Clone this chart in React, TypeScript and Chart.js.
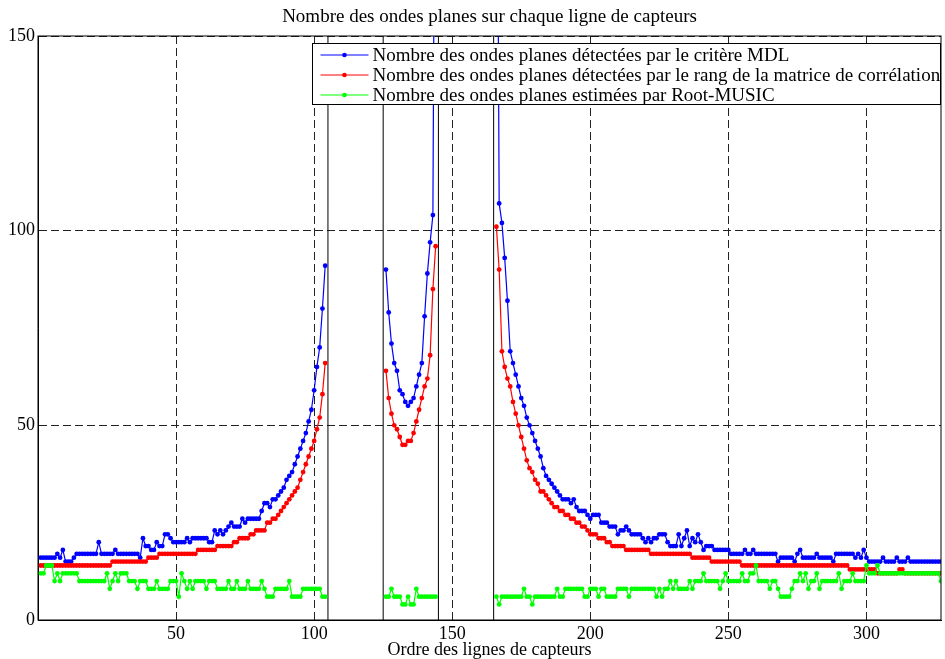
import React, { useEffect, useRef } from "react";
import { Chart, registerables } from "chart.js";

Chart.register(...registerables);

const FONT = "'Liberation Serif', 'Times New Roman', serif";

const titleText = "Nombre des ondes planes sur chaque ligne de capteurs";
const xLabel = "Ordre des lignes de capteurs";
const seriesNames = [
  "Nombre des ondes planes détectées par le critère MDL",
  "Nombre des ondes planes détectées par le rang de la matrice de corrélation",
  "Nombre des ondes planes estimées par Root-MUSIC",
];
const seriesColors = ["#0000ff", "#ff0000", "#00ff00"];

// first sensor line index of each measured segment
const segmentStarts = [1, 126, 166];
// vertical separators between segments
const separators = [105, 125, 145, 165];
const xTicks = [50, 100, 150, 200, 250, 300];
const yTicks = [0, 50, 100, 150];
const xRange = [0, 327];
const yRange = [0, 150];

// MDL criterion (blue)
const mdlSeg1 = [
  16, 16, 16, 16, 16, 16, 17, 16, 18, 15,
  15, 15, 16, 17, 17, 17, 17, 17, 17, 17,
  17, 20, 17, 17, 17, 17, 17, 18, 17, 17,
  17, 17, 17, 17, 17, 17, 16, 21, 19, 19,
  18, 18, 20, 19, 19, 22, 22, 21, 20, 20,
  20, 20, 20, 21, 20, 21, 21, 21, 21, 21,
  21, 20, 20, 23, 22, 23, 22, 23, 24, 25,
  24, 24, 24, 26, 25, 26, 26, 26, 26, 26,
  28, 30, 30, 29, 31, 31, 32, 33, 34, 36,
  37, 38, 40, 42, 44, 46, 48, 51, 54, 59,
  65, 70, 80, 91,
];
const mdlSeg2 = [90, 79, 71, 66, 64, 59, 58, 56, 55, 56, 57, 60, 63, 66, 78, 89, 97, 104, 250];
const mdlSeg3 = [
  250, 107, 102, 93, 82, 69, 66, 63, 60, 57,
  55, 52, 50, 48, 46, 44, 42, 39, 37, 36,
  35, 34, 33, 32, 31, 31, 31, 30, 31, 29,
  28, 28, 28, 27, 26, 27, 27, 27, 25, 25,
  25, 24, 24, 24, 22, 23, 23, 24, 23, 22,
  22, 22, 22, 21, 20, 21, 20, 21, 21, 22,
  22, 22, 20, 19, 19, 19, 22, 19, 21, 23,
  19, 21, 20, 22, 20, 18, 19, 19, 19, 18,
  18, 18, 18, 18, 18, 17, 17, 17, 17, 17,
  18, 17, 17, 18, 17, 17, 17, 17, 17, 17,
  17, 17, 15, 16, 16, 16, 16, 16, 15, 17,
  18, 16, 16, 16, 16, 16, 17, 16, 16, 16,
  16, 16, 15, 17, 17, 17, 17, 17, 17, 17,
  16, 17, 16, 18, 16, 15, 15, 15, 15, 15,
  16, 15, 15, 15, 15, 16, 15, 15, 15, 16,
  15, 15, 15, 15, 15, 15, 15, 15, 15, 15,
  15, 15,
];

// rank of the correlation matrix (red)
const rankSeg1 = [
  14, 14, 14, 14, 14, 14, 14, 14, 14, 14,
  14, 14, 14, 14, 14, 14, 14, 14, 14, 14,
  14, 14, 14, 14, 14, 14, 15, 15, 15, 15,
  15, 15, 15, 15, 15, 15, 15, 15, 15, 16,
  16, 16, 16, 17, 17, 17, 17, 17, 17, 17,
  17, 17, 17, 17, 17, 17, 17, 18, 18, 18,
  18, 18, 18, 18, 19, 19, 19, 19, 19, 19,
  20, 20, 21, 21, 21, 21, 22, 22, 23, 23,
  23, 23, 25, 25, 26, 26, 27, 28, 29, 30,
  31, 32, 33, 34, 36, 38, 40, 42, 44, 46,
  49, 52, 58, 66,
];
const rankSeg2 = [64, 57, 53, 50, 49, 47, 45, 45, 46, 46, 48, 51, 54, 57, 60, 62, 68, 85, 96];
const rankSeg3 = [
  101, 90, 69, 65, 62, 60, 56, 53, 50, 47,
  44, 41, 39, 38, 36, 35, 33, 33, 32, 31,
  30, 29, 29, 28, 28, 27, 27, 26, 26, 25,
  25, 24, 24, 23, 22, 22, 22, 21, 21, 21,
  20, 20, 19, 19, 19, 19, 19, 18, 18, 18,
  18, 18, 18, 18, 18, 18, 17, 17, 17, 17,
  17, 17, 17, 17, 17, 17, 17, 17, 17, 17,
  17, 16, 16, 16, 16, 16, 16, 16, 15, 15,
  15, 15, 15, 15, 15, 15, 15, 15, 15, 14,
  14, 14, 14, 14, 14, 14, 14, 14, 14, 14,
  14, 14, 14, 14, 14, 14, 14, 14, 14, 14,
  14, 14, 14, 14, 14, 14, 14, 14, 14, 14,
  14, 14, 14, 14, 14, 14, 14, 14, 13, 13,
  13, 13, 13, 13, 13, 13, 13, 13, 12, 12,
  12, 12, 12, 12, 12, 12, 13, 13, 12, 12,
  12, 12, 12, 12, 12, 12, 12, 12, 12, 12,
  12, 12,
];

// Root-MUSIC estimate (green)
const musicSeg1 = [
  12, 12, 14, 14, 14, 10, 12, 10, 12, 12,
  12, 12, 12, 12, 10, 10, 10, 10, 10, 10,
  10, 10, 10, 10, 12, 8, 10, 12, 10, 12,
  12, 12, 10, 10, 10, 8, 10, 10, 10, 8,
  8, 8, 10, 8, 8, 8, 8, 10, 10, 10,
  6, 12, 10, 8, 10, 8, 10, 10, 10, 10,
  8, 10, 10, 10, 8, 8, 8, 8, 10, 8,
  8, 10, 8, 8, 8, 10, 8, 8, 8, 8,
  10, 8, 6, 6, 6, 8, 8, 8, 8, 8,
  10, 6, 6, 6, 6, 8, 8, 8, 8, 8,
  8, 8, 6, 6,
];
const musicSeg2 = [6, 6, 8, 6, 6, 6, 4, 4, 6, 4, 4, 8, 6, 6, 6, 6, 6, 6, 6];
const musicSeg3 = [
  6, 4, 6, 6, 6, 6, 6, 6, 6, 6,
  8, 6, 6, 4, 6, 6, 6, 6, 6, 6,
  6, 6, 8, 6, 6, 8, 8, 8, 8, 8,
  8, 8, 6, 6, 8, 8, 8, 6, 8, 8,
  6, 6, 6, 6, 8, 8, 8, 8, 6, 8,
  8, 8, 8, 8, 8, 8, 8, 8, 6, 8,
  6, 8, 8, 10, 8, 10, 8, 8, 8, 8,
  10, 8, 10, 10, 10, 12, 10, 10, 10, 10,
  10, 8, 10, 12, 10, 10, 10, 10, 10, 12,
  10, 10, 12, 12, 14, 10, 10, 10, 10, 8,
  10, 10, 8, 6, 6, 6, 6, 8, 10, 10,
  12, 10, 12, 8, 10, 10, 12, 8, 10, 10,
  10, 10, 10, 10, 12, 8, 10, 10, 10, 12,
  10, 10, 10, 10, 14, 12, 12, 12, 14, 12,
  12, 12, 12, 12, 12, 12, 12, 12, 12, 12,
  12, 12, 12, 12, 12, 12, 12, 12, 12, 12,
  12, 10,
];

function buildPoints(segs: number[][]) {
  const pts: { x: number; y: number | null }[] = [];
  segs.forEach((seg, s) => {
    if (s > 0) pts.push({ x: segmentStarts[s] - 1, y: null });
    seg.forEach((v, i) => pts.push({ x: segmentStarts[s] + i, y: v }));
  });
  return pts;
}

const axesPlugin = {
  id: "matlabDecor",
  beforeDatasetsDraw(chart: any) {
    const { ctx, chartArea, scales } = chart;
    ctx.save();
    ctx.strokeStyle = "#000";
    ctx.lineWidth = 1;
    separators.forEach((v) => {
      const px = scales.x.getPixelForValue(v);
      ctx.beginPath();
      ctx.moveTo(px, chartArea.top);
      ctx.lineTo(px, chartArea.bottom);
      ctx.stroke();
    });
    ctx.restore();
  },
  afterDatasetsDraw(chart: any) {
    const { ctx, chartArea } = chart;
    ctx.save();
    ctx.strokeStyle = "#000";
    ctx.lineWidth = 1;
    ctx.strokeRect(chartArea.left, chartArea.top, chartArea.right - chartArea.left, chartArea.bottom - chartArea.top);

    // legend box (inside axes, north-east)
    const bw = 628;
    const bh = 61;
    const bx = Math.round(chartArea.right - bw - 1) + 0.5;
    const by = Math.round(chartArea.top + 7) + 0.5;
    ctx.fillStyle = "#fff";
    ctx.fillRect(bx, by, bw, bh);
    ctx.strokeRect(bx, by, bw, bh);
    ctx.font = `19px ${FONT}`;
    ctx.textBaseline = "middle";
    ctx.textAlign = "left";
    seriesNames.forEach((name, i) => {
      const ry = by + 11.5 + i * 20;
      ctx.strokeStyle = seriesColors[i];
      ctx.beginPath();
      ctx.moveTo(bx + 8, ry);
      ctx.lineTo(bx + 56, ry);
      ctx.stroke();
      ctx.fillStyle = seriesColors[i];
      ctx.beginPath();
      ctx.arc(bx + 32, ry, 2.3, 0, Math.PI * 2);
      ctx.fill();
      ctx.fillStyle = "#000";
      ctx.fillText(name, bx + 60, ry + 1);
    });
    ctx.restore();
  },
};

export default function App() {
  const ref = useRef<HTMLCanvasElement | null>(null);

  useEffect(() => {
    if (!ref.current) return;
    const mk = (i: number, segs: number[][], order: number) => ({
      label: seriesNames[i],
      data: buildPoints(segs),
      borderColor: seriesColors[i],
      backgroundColor: seriesColors[i],
      pointBackgroundColor: seriesColors[i],
      pointBorderWidth: 0,
      pointRadius: 2.4,
      borderWidth: 1.2,
      spanGaps: false,
      tension: 0,
      order,
    });
    const chart = new Chart(ref.current, {
      type: "line",
      data: {
        datasets: [
          mk(0, [mdlSeg1, mdlSeg2, mdlSeg3], 3),
          mk(1, [rankSeg1, rankSeg2, rankSeg3], 2),
          mk(2, [musicSeg1, musicSeg2, musicSeg3], 1),
        ],
      },
      options: {
        responsive: false,
        animation: false,
        events: [],
        layout: { padding: { top: 0, right: 1, bottom: 0, left: 0 } },
        plugins: {
          legend: { display: false },
          tooltip: { enabled: false },
          title: {
            display: true,
            text: titleText,
            fullSize: false,
            color: "#000",
            font: { family: FONT, size: 19, weight: "normal" },
            padding: { top: 6, bottom: 7.2 },
          },
        },
        scales: {
          x: {
            type: "linear",
            min: xRange[0],
            max: xRange[1],
            afterBuildTicks: (scale: any) => {
              scale.ticks = xTicks.map((v) => ({ value: v }));
            },
            afterFit: (scale: any) => {
              scale.height = 39;
            },
            ticks: {
              color: "#000",
              font: { family: FONT, size: 18 },
              padding: 3,
              maxRotation: 0,
              autoSkip: false,
            },
            grid: { color: "#222", lineWidth: 1, drawTicks: false },
            border: { display: true, color: "#000", dash: [8, 4] },
            title: {
              display: true,
              text: xLabel,
              color: "#000",
              font: { family: FONT, size: 18, lineHeight: 1 },
              padding: { top: 0, bottom: 0 },
            },
          },
          y: {
            type: "linear",
            min: yRange[0],
            max: yRange[1],
            afterBuildTicks: (scale: any) => {
              scale.ticks = yTicks.map((v) => ({ value: v }));
            },
            afterFit: (scale: any) => {
              scale.width = 38;
            },
            ticks: {
              color: "#000",
              font: { family: FONT, size: 18 },
              padding: 3,
            },
            grid: { color: "#222", lineWidth: 1, drawTicks: false },
            border: { display: true, color: "#000", dash: [8, 4] },
          },
        },
      },
      plugins: [axesPlugin],
    } as any);
    return () => chart.destroy();
  }, []);

  return (
    <div style={{ position: "fixed", left: 0, top: 0, width: 945, height: 659, background: "#fff" }}>
      <canvas ref={ref} width={945} height={659} style={{ width: 945, height: 659, display: "block" }} />
    </div>
  );
}
